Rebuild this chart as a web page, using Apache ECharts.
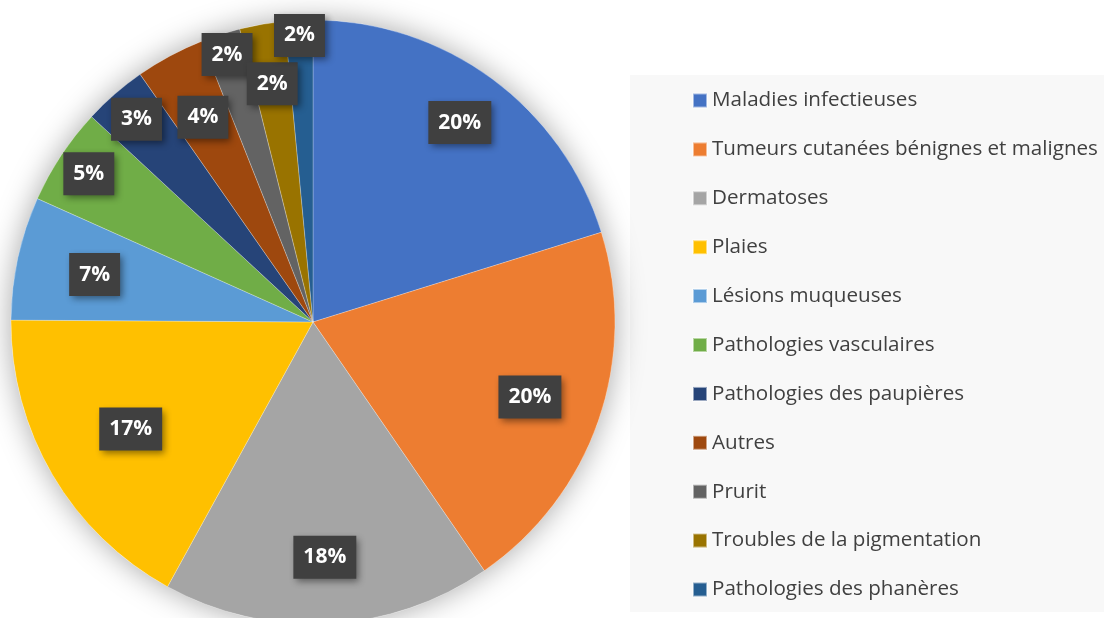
<!DOCTYPE html>
<html>
<head>
<meta charset="utf-8">
<script src="https://cdn.jsdelivr.net/npm/echarts@6/dist/echarts.min.js"></script>
<style>
  html, body { margin: 0; padding: 0; background: #fff; }
  #chart { width: 1104px; height: 618px; }
</style>
</head>
<body>
<div id="chart"></div>
<script>
const categories = [
  "Maladies infectieuses",
  "Tumeurs cutanées bénignes et malignes",
  "Dermatoses",
  "Plaies",
  "Lésions muqueuses",
  "Pathologies vasculaires",
  "Pathologies des paupières",
  "Autres",
  "Prurit",
  "Troubles de la pigmentation",
  "Pathologies des phanères"
];
// share of cases, in %
const shares = [20.2, 20.2, 17.6, 17.1, 6.6, 5.2, 3.4, 3.7, 2.1, 2.4, 1.5];

const colors = ["#4472C4", "#ED7D31", "#A5A5A5", "#FFC000", "#5B9BD5", "#70AD47",
                "#264478", "#9E480E", "#636363", "#997300", "#255E91"];

// pie geometry
const cx = 313, cy = 322, R = 302;
// how far out each data label sits (fraction of the radius), like Excel staggers them
const labelDist = [0.82, 0.76, 0.78, 0.70, 0.74, 0.89, 0.89, 0.77, 0.93, 0.80, 0.95];

const total = shares.reduce((a, b) => a + b, 0);
const midAngles = [];
let acc = 0;
shares.forEach(v => {
  midAngles.push((acc + v / 2) / total * Math.PI * 2);
  acc += v;
});

const chart = echarts.init(document.getElementById("chart"));

const option = {
  animation: false,
  color: colors,
  graphic: [{
    type: "rect",
    z: -10,
    shape: { x: 630, y: 75, width: 480, height: 537 },
    style: { fill: "#f8f8f8" }
  }],
  legend: {
    data: categories,
    orient: "vertical",
    left: 687,
    top: 85,
    itemWidth: 14,
    itemHeight: 14,
    itemGap: 27.9,
    icon: "rect",
    textStyle: {
      fontFamily: "Open Sans",
      fontSize: 20.6,
      lineHeight: 20,
      color: "#404040"
    }
  },
  series: [
    {
      // soft halo under the pie
      type: "pie",
      silent: true,
      center: [cx, cy],
      radius: R,
      z: 1,
      label: { show: false },
      itemStyle: {
        color: "#fff",
        shadowBlur: 30,
        shadowColor: "rgba(0,0,0,0.35)"
      },
      data: [{ value: 1, name: "_halo" }]
    },
    {
      type: "pie",
      center: [cx, cy],
      radius: R,
      startAngle: 90,
      z: 2,
      data: categories.map((c, i) => ({ name: c, value: shares[i] })),
      itemStyle: { borderColor: "rgba(255,255,255,0.5)", borderWidth: 0.5 },
      label: {
        show: true,
        position: "inside",
        formatter: p => Math.round(p.percent) + "%",
        fontFamily: "Open Sans",
        fontWeight: "bold",
        fontSize: 21,
        color: "#fff",
        backgroundColor: "#404040",
        padding: [12, 10, 10, 10],
        shadowColor: "rgba(0,0,0,0.45)",
        shadowBlur: 7,
        shadowOffsetX: 3,
        shadowOffsetY: 3
      },
      labelLine: { show: false },
      labelLayout: p => {
        const a = midAngles[p.dataIndex];
        const r = R * labelDist[p.dataIndex];
        return {
          x: cx + r * Math.sin(a),
          y: cy - r * Math.cos(a),
          align: "center",
          verticalAlign: "middle"
        };
      }
    }
  ]
};

chart.setOption(option);
</script>
</body>
</html>
